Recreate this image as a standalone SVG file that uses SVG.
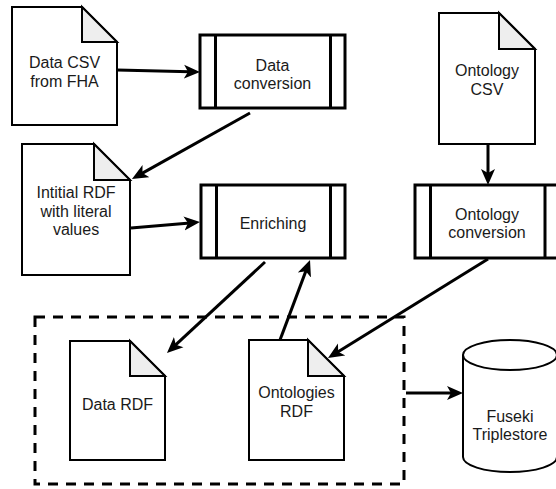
<svg xmlns="http://www.w3.org/2000/svg" width="556" height="489" viewBox="0 0 556 489">
<style>
  .doc { fill: #ffffff; stroke: #000000; stroke-width: 2; stroke-linejoin: miter; }
  .fold { fill: #eeeeee; stroke: #000000; stroke-width: 2; }
  .proc { fill: #ffffff; stroke: #000000; stroke-width: 3; }
  .procline { stroke: #000000; stroke-width: 3; }
  .edge { fill: none; stroke: #000000; stroke-width: 3; }
  .group { fill: none; stroke: #000000; stroke-width: 3; stroke-dasharray: 10 8; }
  text { font-family: "Liberation Sans", Arial, sans-serif; font-size: 16px; fill: #1a1a1a; text-anchor: middle; }
</style>
<defs>
  <marker id="arrow" markerUnits="userSpaceOnUse" markerWidth="20" markerHeight="20" refX="6" refY="8" orient="auto">
    <path d="M0,1 L16,8 L0,15 L4,8 Z" fill="#000000"/>
  </marker>
</defs>
<rect width="556" height="489" fill="#ffffff"/>

<g id="group-output">
  <rect class="group" x="35" y="317" width="369" height="167"/>
</g>

<g id="data-csv">
  <path class="doc" d="M12,7 H82 L117,42 V125 H12 Z"/>
  <path class="fold" d="M82,7 V42 H117 Z"/>
  <text x="64.5" y="68">Data CSV</text>
  <text x="64.5" y="87">from FHA</text>
</g>

<g id="data-conversion">
  <rect class="proc" x="200" y="35" width="145" height="73"/>
  <line class="procline" x1="215.5" y1="35" x2="215.5" y2="108"/>
  <line class="procline" x1="330.5" y1="35" x2="330.5" y2="108"/>
  <text x="272.5" y="71">Data</text>
  <text x="272.5" y="89">conversion</text>
</g>

<g id="ontology-csv">
  <path class="doc" d="M439,13 H499 L535,49 V144 H439 Z"/>
  <path class="fold" d="M499,13 V49 H535 Z"/>
  <text x="487" y="76">Ontology</text>
  <text x="487" y="95">CSV</text>
</g>

<g id="initial-rdf">
  <path class="doc" d="M22,144 H94 L130,180 V275 H22 Z"/>
  <path class="fold" d="M94,144 V180 H130 Z"/>
  <text x="76" y="198">Intitial RDF</text>
  <text x="76" y="217">with literal</text>
  <text x="76" y="235">values</text>
</g>

<g id="enriching">
  <rect class="proc" x="201" y="185" width="144" height="73"/>
  <line class="procline" x1="216.5" y1="185" x2="216.5" y2="258"/>
  <line class="procline" x1="330.5" y1="185" x2="330.5" y2="258"/>
  <text x="273" y="229">Enriching</text>
</g>

<g id="ontology-conversion">
  <rect class="proc" x="415" y="185" width="145" height="73"/>
  <line class="procline" x1="430.5" y1="185" x2="430.5" y2="258"/>
  <line class="procline" x1="545" y1="185" x2="545" y2="258"/>
  <text x="487" y="220">Ontology</text>
  <text x="487" y="238">conversion</text>
</g>

<g id="data-rdf">
  <path class="doc" d="M70,341 H130 L165,376 V460 H70 Z"/>
  <path class="fold" d="M130,341 V376 H165 Z"/>
  <text x="117.5" y="410">Data RDF</text>
</g>

<g id="ontologies-rdf">
  <path class="doc" d="M249,340 H308 L344,376 V460 H249 Z"/>
  <path class="fold" d="M308,340 V376 H344 Z"/>
  <text x="296.5" y="398">Ontologies</text>
  <text x="296.5" y="417">RDF</text>
</g>

<g id="fuseki">
  <path class="doc" d="M463,355 A47,15 0 0 1 557,355 V457 A47,15 0 0 1 463,457 Z"/>
  <path class="doc" fill="none" d="M463,355 A47,15 0 0 0 557,355"/>
  <text x="510" y="422">Fuseki</text>
  <text x="510" y="440">Triplestore</text>
</g>

<g id="connectors">
  <line class="edge" x1="117" y1="70" x2="190" y2="71.8" marker-end="url(#arrow)"/>
  <line class="edge" x1="250" y1="113" x2="140.7" y2="174.1" marker-end="url(#arrow)"/>
  <line class="edge" x1="131" y1="228" x2="190" y2="222.9" marker-end="url(#arrow)"/>
  <line class="edge" x1="488" y1="144" x2="488" y2="175" marker-end="url(#arrow)"/>
  <line class="edge" x1="265" y1="262" x2="174.3" y2="346.2" marker-end="url(#arrow)"/>
  <line class="edge" x1="280" y1="340" x2="306.5" y2="269.4" marker-end="url(#arrow)"/>
  <line class="edge" x1="488" y1="259" x2="336.5" y2="352.7" marker-end="url(#arrow)"/>
  <line class="edge" x1="406" y1="393" x2="453" y2="393" marker-end="url(#arrow)"/>
</g>
</svg>
